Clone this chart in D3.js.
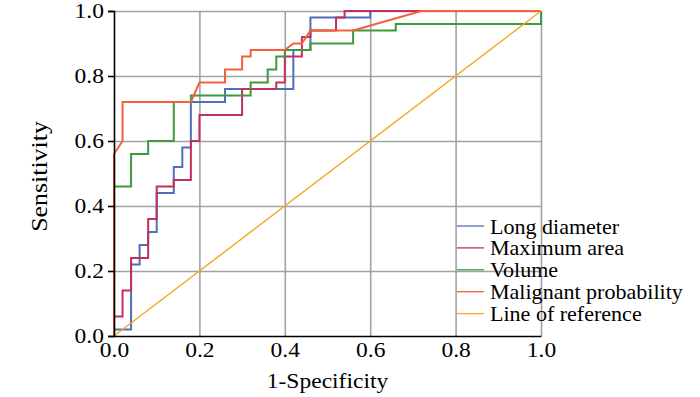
<!DOCTYPE html>
<html>

<head>
    <title>ROC curves</title>
    <script src="https://d3js.org/d3.v7.min.js"></script>
    <style>
        body { margin: 0; background: #fff; }
        text { font-family: "Liberation Serif", "Times New Roman", serif; fill: #000; }
        .gridlines .domain { display: none; }
        .gridlines line { stroke: #a2a2a2; stroke-width: 1.6; }
        .axis .domain, .axis line { stroke: #000; stroke-width: 1.6; }
    </style>
</head>

<body>
    <svg id="roc" height="397" width="700"></svg>

    <script>
        // ROC points, [1-specificity, sensitivity]
        const longDiameter = [[0, 0], [0, 0.02], [0.04, 0.02], [0.04, 0.22], [0.06, 0.22], [0.06, 0.28], [0.08, 0.28],
        [0.08, 0.32], [0.10, 0.32], [0.10, 0.44], [0.14, 0.44], [0.14, 0.52], [0.16, 0.52], [0.16, 0.58], [0.18, 0.58],
        [0.18, 0.72], [0.26, 0.72], [0.26, 0.76], [0.42, 0.76], [0.42, 0.88], [0.46, 0.88], [0.46, 0.98], [0.60, 0.98],
        [0.60, 1], [1, 1]];
        const maximumArea = [[0, 0], [0, 0.06], [0.02, 0.06], [0.02, 0.14], [0.04, 0.14], [0.04, 0.24], [0.08, 0.24],
        [0.08, 0.36], [0.10, 0.36], [0.10, 0.46], [0.14, 0.46], [0.14, 0.48], [0.18, 0.48], [0.18, 0.60], [0.20, 0.60],
        [0.20, 0.68], [0.30, 0.68], [0.30, 0.76], [0.38, 0.76], [0.38, 0.78], [0.40, 0.78], [0.40, 0.86], [0.44, 0.86],
        [0.44, 0.92], [0.46, 0.92], [0.46, 0.94], [0.52, 0.94], [0.52, 0.98], [0.54, 0.98], [0.54, 1], [1, 1]];
        const volume = [[0, 0], [0, 0.46], [0.04, 0.46], [0.04, 0.56], [0.08, 0.56], [0.08, 0.60], [0.14, 0.60],
        [0.14, 0.72], [0.18, 0.72], [0.18, 0.74], [0.32, 0.74], [0.32, 0.78], [0.36, 0.78], [0.36, 0.82], [0.38, 0.82],
        [0.38, 0.86], [0.40, 0.86], [0.40, 0.88], [0.46, 0.88], [0.46, 0.90], [0.56, 0.90], [0.56, 0.94], [0.66, 0.94],
        [0.66, 0.96], [1, 0.96], [1, 1]];
        const malignantProb = [[0, 0], [0, 0.56], [0.02, 0.60], [0.02, 0.72], [0.18, 0.72], [0.20, 0.78], [0.26, 0.78],
        [0.26, 0.82], [0.30, 0.82], [0.30, 0.86], [0.32, 0.86], [0.32, 0.88], [0.40, 0.88], [0.42, 0.90], [0.44, 0.90],
        [0.46, 0.94], [0.56, 0.94], [0.72, 1], [1, 1]];
        const reference = [[0, 0], [1, 1]];

        const seriesNames = ["Long diameter", "Maximum area", "Volume", "Malignant probability", "Line of reference"];
        const seriesColors = ["#4f6fba", "#c2305c", "#3e9a3e", "#f2603c", "#f5a524"];
        const tickValues = [0, 0.2, 0.4, 0.6, 0.8, 1.0];

        const svg = d3.select("#roc");
        const margin = { top: 11, right: 159, bottom: 61, left: 114 };
        const chartWidth = 700 - margin.left - margin.right;
        const chartHeight = 397 - margin.top - margin.bottom;
        const stretch = 1.12;

        const xScale = d3.scaleLinear().domain([0, 1]).range([0, chartWidth]);
        const yScale = d3.scaleLinear().domain([0, 1]).range([chartHeight, 0]);

        const chart = svg.append("g")
            .attr("transform", `translate(${margin.left},${margin.top})`);

        // gridlines
        chart.append("g")
            .attr("class", "x gridlines")
            .attr("transform", `translate(0,${chartHeight})`)
            .call(d3.axisBottom(xScale).tickValues(tickValues.slice(1)).tickSize(-chartHeight).tickFormat(""));
        chart.append("g")
            .attr("class", "y gridlines")
            .call(d3.axisLeft(yScale).tickValues(tickValues.slice(1)).tickSize(-chartWidth).tickFormat(""));

        // curves
        const lineGen = d3.line()
            .x(d => xScale(d[0]))
            .y(d => yScale(d[1]));

        const allSeries = [longDiameter, maximumArea, volume, malignantProb, reference];
        chart.selectAll("path.curve").data(allSeries)
            .join("path")
            .attr("class", "curve")
            .attr("d", d => lineGen(d))
            .attr("fill", "none")
            .attr("stroke", (d, i) => seriesColors[i])
            .attr("stroke-width", (d, i) => i == 4 ? 1.4 : 2);

        // axes
        let leftAxis = chart.append("g")
            .attr("class", "y axis")
            .call(d3.axisLeft(yScale).tickValues(tickValues).tickSize(6).tickPadding(4).tickFormat(d3.format(".1f")));
        let bottomAxis = chart.append("g")
            .attr("class", "x axis")
            .attr("transform", `translate(0,${chartHeight})`)
            .call(d3.axisBottom(xScale).tickValues(tickValues).tickSize(0).tickPadding(6).tickFormat(d3.format(".1f")));
        svg.selectAll(".axis text")
            .attr("font-size", 21)
            .attr("font-family", "Liberation Serif");
        leftAxis.selectAll("text").attr("transform", `translate(-10,0) scale(${stretch},1)`).attr("x", 0);
        bottomAxis.selectAll("text").attr("transform", `scale(${stretch},1)`);

        // axis titles
        svg.append("text")
            .attr("transform", `translate(${margin.left + chartWidth / 2},388) scale(${stretch},1)`)
            .attr("text-anchor", "middle")
            .attr("font-size", 21)
            .text("1-Specificity");
        svg.append("text")
            .attr("transform", `translate(47,${margin.top + chartHeight / 2 + 3}) rotate(-90) scale(1.15,1)`)
            .attr("text-anchor", "middle")
            .attr("font-size", 22.5)
            .text("Sensitivity");

        // legend
        const legend = svg.append("g").attr("transform", "translate(457,226)");
        const rows = legend.selectAll("g.row").data(seriesNames)
            .join("g")
            .attr("class", "row")
            .attr("transform", (d, i) => `translate(0,${i * 21.9})`);
        rows.append("line")
            .attr("x1", 0).attr("x2", 27)
            .attr("stroke", (d, i) => seriesColors[i])
            .attr("stroke-width", 1.3);
        rows.append("text")
            .attr("transform", "translate(33,7.5) scale(1.05,1)")
            .attr("font-size", 21)
            .text(d => d);
    </script>

</body>

</html>
